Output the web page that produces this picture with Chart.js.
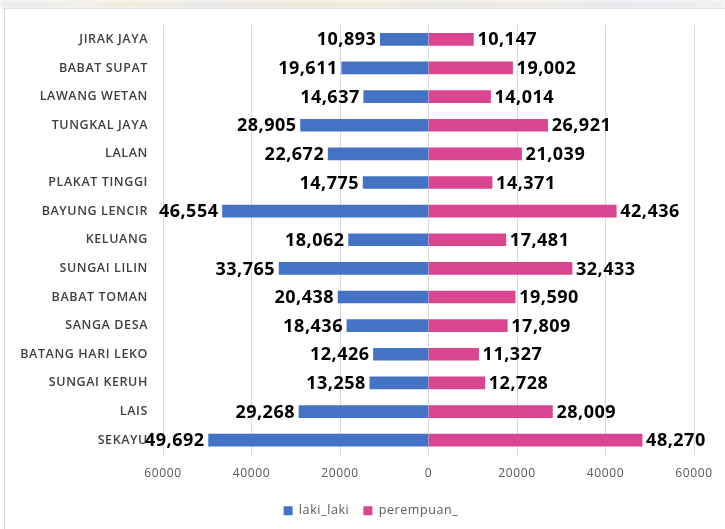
<!DOCTYPE html>
<html>
<head>
<meta charset="utf-8">
<script src="https://cdn.jsdelivr.net/npm/chart.js@4/dist/chart.umd.min.js"></script>
<style>
  html, body { margin: 0; padding: 0; background: #ffffff; }
  body { width: 725px; height: 529px; position: relative; overflow: hidden; }
  #strip { position: absolute; left: 0; top: 0; width: 725px; height: 9px;
    background: linear-gradient(to right, #eceef0 0%, #f1efe8 12%, #f4eedc 17%, #ecebea 28%, #efe9dd 40%, #f4eedf 52%, #ebe9e6 60%, #f0ede6 72%, #e9ebee 85%, #eef0f2 100%);
    filter: blur(1px); }
  #frame { position: absolute; left: 4px; top: 8px; width: 721px; height: 521px; background: #fff;
    border-left: 1px solid #d6d6d6; border-top: 1px solid #e2e2e2; box-sizing: border-box; }
  #wrap { position: absolute; left: 0; top: 0; width: 725px; height: 529px; }
</style>
</head>
<body>
<div id="strip"></div>
<div id="frame"></div>
<div id="wrap"><canvas id="c" width="725" height="529"></canvas></div>
<script>
const categories = ["JIRAK JAYA", "BABAT SUPAT", "LAWANG WETAN", "TUNGKAL JAYA", "LALAN", "PLAKAT TINGGI", "BAYUNG LENCIR", "KELUANG", "SUNGAI LILIN", "BABAT TOMAN", "SANGA DESA", "BATANG HARI LEKO", "SUNGAI KERUH", "LAIS", "SEKAYU"];
const lakiLaki = [10893, 19611, 14637, 28905, 22672, 14775, 46554, 18062, 33765, 20438, 18436, 12426, 13258, 29268, 49692];
const perempuan = [10147, 19002, 14014, 26921, 21039, 14371, 42436, 17481, 32433, 19590, 17809, 11327, 12728, 28009, 48270];
const seriesNames = ["laki_laki", "perempuan_"];
const xTicks = [-60000, -40000, -20000, 0, 20000, 40000, 60000];

const spacing = {
  id: 'spacing',
  beforeLayout(chart) { chart.ctx.letterSpacing = '0.6px'; },
  afterLayout(chart) { if (chart.scales.y) chart.scales.y.left = 0; },
  beforeDraw(chart) { chart.ctx.letterSpacing = '0.6px'; }
};

const valueLabels = {
  id: 'valueLabels',
  afterDatasetsDraw(chart) {
    const ctx = chart.ctx;
    ctx.save();
    ctx.letterSpacing = '0.5px';
    ctx.font = 'bold 18px "Open Sans"';
    ctx.fillStyle = '#000000';
    ctx.textBaseline = 'middle';
    chart.data.datasets.forEach((ds, di) => {
      const meta = chart.getDatasetMeta(di);
      meta.data.forEach((bar, i) => {
        const v = Math.abs(ds.data[i]);
        const txt = v.toLocaleString('en-US');
        if (ds.data[i] < 0) {
          ctx.textAlign = 'right';
          ctx.fillText(txt, bar.x - 4, bar.y + 1);
        } else {
          ctx.textAlign = 'left';
          ctx.fillText(txt, bar.x + 4, bar.y + 1);
        }
      });
    });
    ctx.restore();
  }
};

new Chart(document.getElementById('c'), {
  type: 'bar',
  data: {
    labels: categories,
    datasets: [
      { label: seriesNames[0], data: lakiLaki.map(v => -v), backgroundColor: '#4472C4', borderWidth: 0, barThickness: 12 },
      { label: seriesNames[1], data: perempuan, backgroundColor: '#D9458E', borderWidth: 0, barThickness: 12 }
    ]
  },
  options: {
    indexAxis: 'y',
    responsive: false,
    animation: false,
    devicePixelRatio: 1,
    layout: { padding: { top: 25, right: 31, bottom: 2, left: 48 } },
    scales: {
      x: {
        stacked: true,
        min: -60000, max: 60000,
        afterBuildTicks(scale) { scale.ticks = xTicks.map(v => ({ value: v })); },
        afterFit(scale) { scale.height = 36; },
        grid: { color: '#d9d9d9', drawTicks: false, lineWidth: 1 },
        border: { display: false },
        ticks: {
          padding: 12,
          color: '#595959',
          font: { family: '"Open Sans"', size: 12 },
          callback: (v) => String(Math.abs(v))
        }
      },
      y: {
        stacked: true,
        afterFit(scale) { scale.width = 115; },
        grid: { display: false, drawTicks: false },
        border: { display: false },
        ticks: {
          padding: 15,
          color: '#3f3f3f',
          font: { family: '"Open Sans"', size: 12.5, weight: '600' },
          autoSkip: false
        }
      }
    },
    plugins: {
      legend: {
        position: 'bottom',
        labels: {
          boxWidth: 9, boxHeight: 9, padding: 14,
          color: '#595959',
          font: { family: '"Open Sans"', size: 12.5 }
        }
      },
      tooltip: { enabled: false }
    }
  },
  plugins: [spacing, valueLabels]
});
</script>
</body>
</html>
